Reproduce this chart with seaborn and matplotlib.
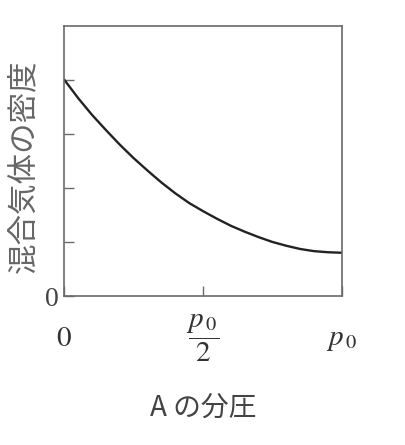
import matplotlib
matplotlib.use("Agg")
import matplotlib.pyplot as plt
import seaborn as sns
import pandas as pd

# Data (x as fraction of p0, density in tick units)
pressure_frac = [0.0, 0.05, 0.1, 0.15, 0.2, 0.25, 0.3, 0.35, 0.4, 0.45, 0.5,
                 0.55, 0.6, 0.65, 0.7, 0.75, 0.8, 0.85, 0.9, 0.95, 1.0]
density = [4.00, 3.66, 3.35, 3.07, 2.80, 2.55, 2.32, 2.10, 1.90, 1.72, 1.57,
           1.43, 1.30, 1.19, 1.09, 1.00, 0.93, 0.87, 0.83, 0.81, 0.80]
x_tick_pos = [0.0, 0.5, 1.0]
x_tick_labels = ["$0$", r"$\dfrac{\mathbf{\mathit{p}}_{\,0}}{2}$", r"$\mathbf{\mathit{p}}_{\,0}$"]
y_tick_pos = [0, 1, 2, 3, 4]
y_tick_labels = ["0", "", "", "", ""]
x_label = "A の分圧"
y_label = "混合気体の密度"

sns.set_theme(style="white")
plt.rcParams["font.family"] = ["Noto Sans CJK JP", "DejaVu Sans"]
plt.rcParams["mathtext.fontset"] = "stix"

df = pd.DataFrame({"p": pressure_frac, "d": density})

fig = plt.figure(figsize=(4.05, 4.45), dpi=100)
ax = fig.add_axes([0.1588, 0.3348, 0.685, 0.6074])
sns.lineplot(data=df, x="p", y="d", ax=ax, color="#222222", linewidth=1.7)

ax.set_xlim(0, 1)
ax.set_ylim(0, 5)
for s in ax.spines.values():
    s.set_color("#6a6a6a")
    s.set_linewidth(1.2)

ax.set_yticks(y_tick_pos)
ax.set_yticklabels(y_tick_labels, family="Liberation Serif", fontsize=20, color="#444444")
ax.tick_params(axis="y", direction="in", length=7.5, width=1.0, color="#6a6a6a", pad=4, left=True)

ax.set_xticks(x_tick_pos)
ax.set_xticklabels(x_tick_labels, fontsize=21, color="#333333")
ax.tick_params(axis="x", direction="in", length=7.5, width=1.0, color="#6a6a6a", pad=30, bottom=True)
for lbl in ax.get_xticklabels():
    lbl.set_verticalalignment("center")

ax.set_xlabel("")
ax.set_ylabel("")
fig.text(24 / 405, 1 - 166 / 445, y_label, rotation=90, ha="center", va="center",
         fontsize=22, color="#666666")
fig.text(203 / 405, 1 - 408 / 445, x_label, ha="center", va="center",
         fontsize=20, color="#444444")

fig.savefig("out.png", dpi=100)
